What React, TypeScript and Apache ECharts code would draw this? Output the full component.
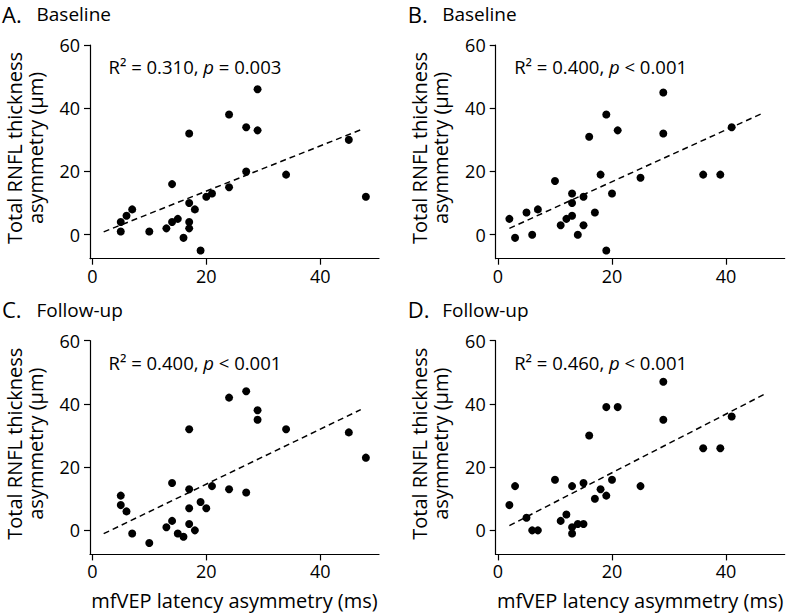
import React, { useEffect, useRef } from "react";
import * as echarts from "echarts";

// ---- data ----
const panelLetters = ["A.", "B.", "C.", "D."];
const panelTitles = ["Baseline", "Baseline", "Follow-up", "Follow-up"];
const statsR2 = ["0.310", "0.400", "0.400", "0.460"];
const statsP = ["= 0.003", "< 0.001", "< 0.001", "< 0.001"];

const xTicks = [0, 20, 40];
const yTicks = [0, 20, 40, 60];
const xTitle = "mfVEP latency asymmetry (ms)";
const yTitle = "Total RNFL thickness\nasymmetry (µm)";

const pointsA: number[][] = [
  [29, 46], [24, 38], [27, 34], [29, 33], [17, 32], [45, 30], [27, 20], [34, 19], [14, 16],
  [24, 15], [48, 12], [20, 12], [21, 13], [17, 10], [18, 8], [7, 8], [6, 6], [5, 4], [14, 4],
  [15, 5], [17, 4], [17, 2], [13, 2], [5, 1], [10, 1], [16, -1], [19, -5],
];
const pointsB: number[][] = [
  [29, 45], [19, 38], [21, 33], [29, 32], [41, 34], [16, 31], [18, 19], [36, 19], [39, 19],
  [25, 18], [10, 17], [13, 13], [20, 13], [15, 12], [13, 10], [7, 8], [5, 7], [17, 7], [2, 5],
  [12, 5], [13, 6], [11, 3], [15, 3], [6, 0], [14, 0], [3, -1], [19, -5],
];
const pointsC: number[][] = [
  [27, 44], [24, 42], [29, 38], [29, 35], [17, 32], [34, 32], [45, 31], [48, 23], [14, 15],
  [21, 14], [17, 13], [24, 13], [27, 12], [5, 11], [5, 8], [6, 6], [19, 9], [17, 7], [20, 7],
  [14, 3], [13, 1], [17, 2], [18, 0], [15, -1], [16, -2], [7, -1], [10, -4],
];
const pointsD: number[][] = [
  [29, 47], [19, 39], [21, 39], [29, 35], [41, 36], [16, 30], [36, 26], [39, 26], [10, 16],
  [20, 16], [3, 14], [13, 14], [15, 15], [25, 14], [18, 13], [17, 10], [19, 11], [2, 8], [5, 4],
  [12, 5], [11, 3], [6, 0], [7, 0], [13, 1], [14, 2], [15, 2], [13, -1],
];

const fitA: number[][] = [[2, 0.9], [47, 33.1]];
const fitB: number[][] = [[2, 2.0], [46.4, 38.4]];
const fitC: number[][] = [[2, -1.05], [47.1, 38.2]];
const fitD: number[][] = [[2, 1.5], [47, 43.3]];

const allPoints = [pointsA, pointsB, pointsC, pointsD];
const allFits = [fitA, fitB, fitC, fitD];

// ---- layout ----
const FONT = "'Open Sans', 'Noto Sans', sans-serif";
const gridLefts = [90, 495.7, 90, 495.7];
const gridTops = [45, 45, 340.7, 340.7];
const GW = 289;
const GH = 213.7;
const X_MIN = -0.4;
const X_MAX = 50.3;
const Y_MIN = -7.6;
const Y_MAX = 60;

export default function App() {
  const ref = useRef<HTMLDivElement>(null);

  useEffect(() => {
    if (!ref.current) return;
    const chart = echarts.init(ref.current, null, { renderer: "svg" });

    const grids = gridLefts.map((l, i) => ({
      left: l,
      top: gridTops[i],
      width: GW,
      height: GH,
      containLabel: false,
    }));

    const axisLineStyle = { color: "#000", width: 1.2 };

    const xAxes = grids.map((_, i) => ({
      type: "value",
      gridIndex: i,
      min: X_MIN,
      max: X_MAX,
      axisLine: { show: true, onZero: false, lineStyle: axisLineStyle },
      axisTick: { show: true, length: 6, lineStyle: axisLineStyle, customValues: xTicks },
      axisLabel: {
        show: true,
        customValues: xTicks,
        margin: 8,
        color: "#000",
        fontSize: 18,
        fontFamily: FONT,
      },
      splitLine: { show: false },
    }));

    const yAxes = grids.map((_, i) => ({
      type: "value",
      gridIndex: i,
      min: Y_MIN,
      max: Y_MAX,
      axisLine: { show: true, onZero: false, lineStyle: axisLineStyle },
      axisTick: { show: true, length: 6, lineStyle: axisLineStyle, customValues: yTicks },
      axisLabel: {
        show: true,
        customValues: yTicks,
        margin: 10,
        color: "#000",
        fontSize: 18,
        fontFamily: FONT,
      },
      splitLine: { show: false },
    }));

    const series: any[] = [];
    allPoints.forEach((pts, i) => {
      series.push({
        type: "scatter",
        xAxisIndex: i,
        yAxisIndex: i,
        data: pts,
        symbol: "circle",
        symbolSize: 8,
        itemStyle: { color: "#000", opacity: 1 },
        silent: true,
      });
      series.push({
        type: "line",
        xAxisIndex: i,
        yAxisIndex: i,
        data: allFits[i],
        showSymbol: false,
        symbol: "none",
        lineStyle: { color: "#000", width: 1.5, type: [6, 4] },
        silent: true,
      });
    });

    const graphics: any[] = [];
    grids.forEach((g, i) => {
      const ox = g.left - 90;
      const oy = g.top - 45;
      // panel letter + title
      graphics.push({
        type: "text",
        x: 2 + ox,
        y: 13.5 + oy,
        style: {
          text: panelLetters[i],
          fontSize: 22,
          lineHeight: 22,
          fontFamily: FONT,
          fill: "#000",
          align: "left",
          verticalAlign: "middle",
        },
      });
      graphics.push({
        type: "text",
        x: 36.5 + ox,
        y: 14 + oy,
        style: {
          text: panelTitles[i],
          fontSize: 19,
          lineHeight: 19,
          fontFamily: FONT,
          fill: "#000",
          align: "left",
          verticalAlign: "middle",
        },
      });
      // stats text
      graphics.push({
        type: "text",
        x: g.left + 18.5,
        y: g.top + 21.5,
        style: {
          text: `{n|R² = ${statsR2[i]}, }{i|p}{n| ${statsP[i]}}`,
          align: "left",
          verticalAlign: "middle",
          rich: {
            n: { fontSize: 18.5, fontFamily: FONT, fill: "#000" },
            i: { fontSize: 18.5, fontFamily: FONT, fill: "#000", fontStyle: "italic" },
          },
        },
      });
      // y-axis title
      graphics.push({
        type: "text",
        x: 24.5 + ox,
        y: 148 + oy,
        rotation: Math.PI / 2,
        style: {
          text: yTitle,
          fontSize: 20,
          lineHeight: 21,
          fontFamily: FONT,
          fill: "#000",
          align: "center",
          verticalAlign: "middle",
        },
      });
      // x-axis title on bottom row
      if (i >= 2) {
        graphics.push({
          type: "text",
          x: g.left + GW / 2,
          y: 600,
          style: {
            text: xTitle,
            fontSize: 20,
            fontFamily: FONT,
            fill: "#000",
            align: "center",
            verticalAlign: "middle",
          },
        });
      }
    });

    chart.setOption({
      animation: false,
      backgroundColor: "#fff",
      grid: grids,
      xAxis: xAxes,
      yAxis: yAxes,
      series,
      graphic: graphics,
    });

    return () => chart.dispose();
  }, []);

  return (
    <div
      ref={ref}
      style={{ position: "fixed", left: 0, top: 0, width: 789, height: 613 }}
    />
  );
}
